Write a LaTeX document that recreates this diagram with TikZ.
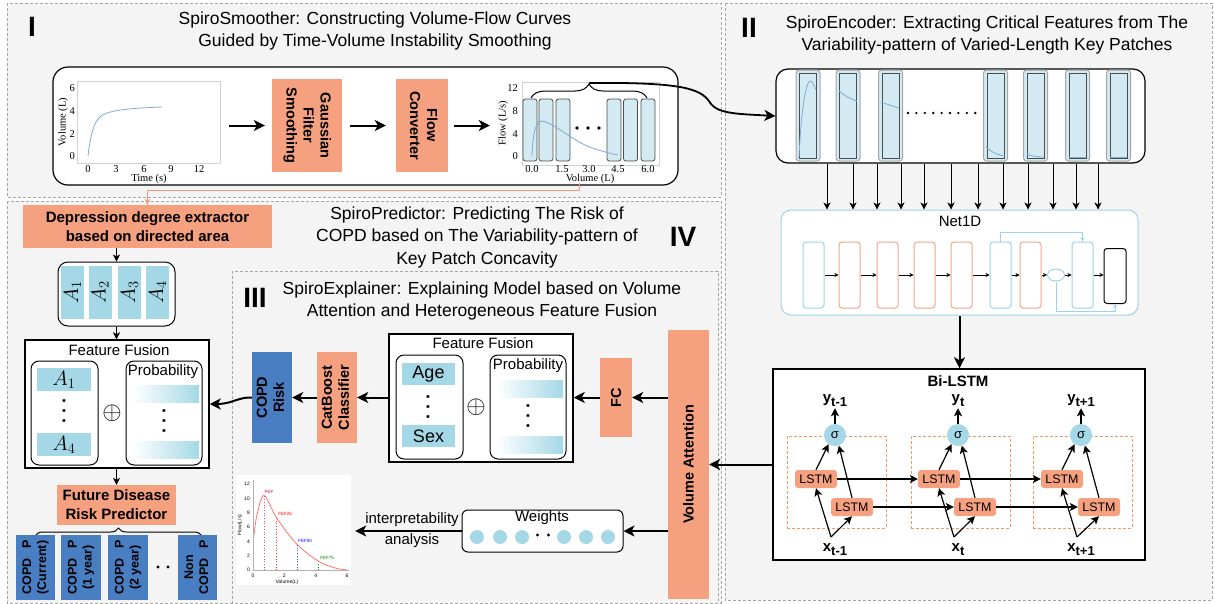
\documentclass[tikz,border=0pt]{standalone}
\usepackage{graphicx}
\usepackage{fontspec}
\setmainfont{Liberation Sans}
\newfontfamily\plotserif{Liberation Serif}
\usetikzlibrary{arrows.meta,decorations.pathreplacing,calc,shapes.geometric}
\definecolor{salmon}{HTML}{F5A07F}
\definecolor{lightblue}{HTML}{A5D8E6}
\definecolor{patchblue}{HTML}{D3EAF3}
\definecolor{copdblue}{HTML}{4A7EC2}
\definecolor{panelgray}{HTML}{F4F4F4}
\definecolor{netblue}{HTML}{9FD3E6}
\definecolor{netor}{HTML}{F5A589}
\definecolor{dashor}{HTML}{F7985F}
\definecolor{plotblue}{HTML}{7FA9D6}
\definecolor{orconn}{HTML}{F09A78}
\newcommand\myrot[2]{\rotatebox{#1}{\begin{tabular}{@{}c@{}}#2\end{tabular}}}
\newcommand\lsub[2]{{\fontsize{15}{15}\selectfont\bfseries #1}\raisebox{-4pt}{\fontsize{13}{13}\selectfont\bfseries #2}}
\newcommand\vdotz{\rotatebox{90}{\fontsize{18}{18}\selectfont\bfseries .\hspace{5pt}.\hspace{5pt}.}}
\begin{document}
\begin{tikzpicture}[x=1pt,y=-1pt,
  panel/.style={draw=gray!70, dash pattern=on 3pt off 2pt, line width=0.8pt, fill=panelgray},
  title/.style={align=center, font=\fontsize{17.5}{21.5}\selectfont, inner sep=0pt},
  numeral/.style={font=\fontsize{28}{28}\selectfont\bfseries, inner sep=0pt},
  sbox/.style={fill=salmon, inner sep=0pt, font=\fontsize{14.5}{17}\selectfont\bfseries},
  bbox/.style={fill=copdblue, inner sep=0pt, font=\fontsize{14.5}{17}\selectfont\bfseries},
  lab/.style={font=\fontsize{15}{15}\selectfont, inner sep=0pt},
  ticklab/.style={font=\plotserif\fontsize{10.5}{10.5}\selectfont, inner sep=0pt},
  tiny/.style={font=\fontsize{5}{5}\selectfont, inner sep=0pt},
  bigarrow/.style={line width=2pt, -{Stealth[length=11pt,width=11pt,inset=3pt]}},
  midarrow/.style={line width=1.2pt, -{Stealth[length=8pt,width=8pt,inset=2pt]}},
  smallarrow/.style={line width=0.8pt, -{Stealth[length=7pt,width=7pt,inset=2pt]}},
  tinyarrow/.style={line width=0.7pt, -{Stealth[length=4pt,width=4pt]}},
  netskip/.style={draw=netblue, line width=1pt, -{Stealth[length=4pt,width=4pt]}},
  fvpatch/.style={fill=patchblue, draw=gray!60!black, line width=0.8pt, rounded corners=2.5pt, inner sep=0pt, minimum width=14, minimum height=62},
  eout/.style={fill=patchblue, draw=gray!70, line width=1pt, rounded corners=3pt, inner sep=0pt, minimum width=24, minimum height=91},
  einn/.style={draw=gray!60!black, line width=1pt, inner sep=0pt, minimum width=17, minimum height=85},
  nb/.style={draw=#1, line width=1pt, rounded corners=3pt, minimum width=21, minimum height=66, inner sep=0pt, fill=white},
  lstm/.style={fill=salmon, rounded corners=3pt, minimum width=42, minimum height=18, inner sep=0pt, font=\fontsize{12.4}{12.4}\selectfont},
  sig/.style={circle, fill=lightblue, minimum size=22, inner sep=0pt, font=\fontsize{13}{13}\selectfont},
  arect/.style={fill=lightblue, inner sep=0pt, font=\fontsize{21}{21}\selectfont},
  gbar/.style={left color=white, right color=lightblue, inner sep=0pt, minimum width=67, minimum height=17},
  dot/.style={circle, fill=lightblue, minimum size=14, inner sep=0pt},
  oplusnode/.style={inner sep=0pt, font=\fontsize{27}{27}\selectfont}
]
\fill[white] (0,0) rectangle (1215,603);
\useasboundingbox (0,0) rectangle (1215,603);
% panels
\draw[panel] (7,3) rectangle (721,197);
\draw[panel] (725,3) rectangle (1212,600);
\draw[panel] (7,201) rectangle (721,603);
\draw[panel] (232,271) rectangle (718,603);

% ===== Panel I
\node[numeral] (n1) at (32,27) {I};
\node[title] (t1) at (375,31) {SpiroSmoother: Constructing Volume-Flow Curves\\Guided by Time-Volume Instability Smoothing};
\node[draw, line width=1.2pt, rounded corners=15pt, fill=white, minimum width=625, minimum height=118, inner sep=0pt] (smbox) at (365.5,126) {};
% time-volume plot
\node[draw=gray!35, fill=white, minimum width=143, minimum height=82, inner sep=0pt] (tv) at (148.5,122) {};
\foreach \t/\px in {0/88,3/116,6/144,9/171,12/199} \node[ticklab] (tvx\t) at (\px,169) {\t};
\foreach \v/\py in {0/156,2/134,4/111,6/88} \node[ticklab, anchor=east] (tvy\v) at (75,\py) {\v};
\node[ticklab] (tvxl) at (149,179) {Time (s)};
\node[ticklab, rotate=90] (tvyl) at (63,122) {Volume (L)};
\draw[plotblue, line width=0.8pt] plot[domain=0:8, samples=80, smooth] ({88+9.25*\x},{156-11.33*(3.3*(1-exp(-\x/0.5))+1.1*(1-exp(-\x/3)))});
% boxes
\node[sbox, minimum width=70, minimum height=93] (gauss) at (307,125.5) {\myrot{-90}{Gaussian\\Filter\\Smoothing}};
\node[sbox, minimum width=52, minimum height=93] (conv) at (422,125.5) {\myrot{-90}{Flow\\Converter}};
% flow-volume plot
\node[draw=gray!35, fill=white, minimum width=137, minimum height=83, inner sep=0pt] (fv) at (590.5,123.5) {};
\foreach \v/\py in {12/88,8/111,4/134,0/156} \node[ticklab, anchor=east] (fvy\v) at (518,\py) {\v};
\foreach \i/\t/\px in {1/0.0/532,2/1.5/562,3/3.0/589,4/4.5/618,5/6.0/648} \node[ticklab] (fvx\i) at (\px,169) {\t};
\node[ticklab] (fvxl) at (590,179) {Volume (L)};
\node[ticklab, rotate=90] (fvyl) at (503,123) {Flow (L/s)};
\foreach \i/\cx in {1/530,2/546,3/563,4/614,5/630.5,6/648} \node[fvpatch] (fp\i) at (\cx,130) {};
\draw[plotblue, line width=0.8pt] (532,156) .. controls (533,128) and (537,121) .. (542,121) .. controls (556,124) and (575,143) .. (595,149) .. controls (605,152) and (612,154) .. (618,155);
\foreach \i/\cx in {1/577,2/588,3/599} \fill (\cx,128) circle (1.8pt);
\draw[decorate, decoration={brace, amplitude=14pt}, line width=1pt] (531,98) -- (647,98);
\coordinate (bt) at (589,83);
% arrows
\draw[bigarrow, shorten <=9pt, shorten >=7pt] (tv.east |- gauss.west) -- (gauss.west);
\draw[bigarrow, shorten <=8pt, shorten >=10pt] (gauss.east) -- (conv.west);
\draw[bigarrow, shorten <=6pt, shorten >=32pt] (conv.east) -- (conv.east -| fv.west);

% ===== Panel II
\node[numeral] (n2) at (749,28) {II};
\node[title] (t2) at (987,35) {SpiroEncoder: Extracting Critical Features from The\\Variability-pattern of Varied-Length Key Patches};
\node[draw, line width=1.2pt, rounded corners=12pt, fill=white, minimum width=369, minimum height=94, inner sep=0pt] (enc) at (960.5,116) {};
\foreach \i/\cx in {1/808,2/848,3/890.5,4/995.5,5/1035.5,6/1077.5,7/1118.5} {
  \node[eout] (ep\i) at (\cx,115.5) {};
  \node[einn] (ei\i) at (\cx,115.5) {};
}
\draw[plotblue, line width=0.8pt] (799,158) .. controls (801,110) and (806,82) .. (810,81) .. controls (812,81) and (814,85) .. (816,90);
\draw[plotblue, line width=0.8pt] (839,91) .. controls (845,96) and (850,99) .. (857,101);
\draw[plotblue, line width=0.8pt] (881,102) .. controls (886,104) and (892,106) .. (899,108);
\draw[plotblue, line width=0.8pt] (986,147) .. controls (990,151) and (997,155) .. (1005,156);
\draw[plotblue, line width=0.8pt] (1027,154) .. controls (1031,156) and (1036,157) .. (1044,157);
\draw[plotblue, line width=0.8pt] (1069,157) -- (1086,157);
\draw[plotblue, line width=0.8pt] (1110,157) -- (1127,157);
\foreach \k in {0,...,8} \fill ({908+8.4*\k},113) circle (1.3pt);
% Net1D
\node[draw=netblue, line width=1pt, rounded corners=10pt, fill=white, minimum width=357, minimum height=105, inner sep=0pt] (net) at (959.5,262.5) {};
\node[lab] (netlbl) at (960,221) {Net1D};
\node[nb=netblue] (b1) at (813.5,275) {};
\node[nb=netor] (b2) at (849.5,275) {};
\node[nb=netor] (b3) at (887.5,275) {};
\node[nb=netor] (b4) at (924.5,275) {};
\node[nb=netor] (b5) at (961.5,275) {};
\node[nb=netblue] (b6) at (1000.5,275) {};
\node[nb=netor] (b7) at (1030.5,275) {};
\node[ellipse, draw=netblue, line width=1pt, fill=white, minimum width=17, minimum height=12, inner sep=0pt] (ell) at (1056,275) {};
\node[nb=netblue] (b8) at (1082.5,275) {};
\node[nb=black, minimum width=22, minimum height=55] (b9) at (1115,276) {};
\foreach \a/\b in {b1/b2,b2/b3,b3/b4,b4/b5,b5/b6,b6/b7,b7/ell,ell/b8} \draw[tinyarrow] (\a.east) -- (\b.west);
\draw[tinyarrow] (b8.east) -- (b8.east -| b9.west);
\draw[netskip] (b6.north) -- ++(0,-9) -| (b8.north);
\draw[netskip] (ell.south) -- ++(0,30) -| (b9.south);
\foreach \x in {827,853,877,901,924,951,978,1003,1028,1053,1076,1098} \draw[smallarrow] (enc.south -| \x,0) -- (net.north -| \x,0);
% Bi-LSTM
\node[draw, line width=1.5pt, fill=white, minimum width=372, minimum height=191, inner sep=0pt] (bl) at (959,464.5) {};
\draw[bigarrow] (net.south) -- (net.south |- bl.north);
\node[lab, font=\fontsize{15}{15}\selectfont\bfseries] (bllbl) at (958,381) {Bi-LSTM};
\foreach \i/\cx in {1/836.5,2/960.5,3/1082.5} \node[draw=dashor, dash pattern=on 3pt off 2pt, line width=1pt, minimum width=99, minimum height=92, inner sep=0pt] (db\i) at (\cx,482) {};
\foreach \i/\cx/\sy/\sx in {1/835/t-1/t-1,2/958/t/t,3/1081/t+1/t+1} {
  \node[sig] (s\i) at (\cx,435) {σ};
  \node[inner sep=0pt] (y\i) at (\cx,401) {\lsub{y}{\sy}};
  \node[inner sep=0pt] (x\i) at (\cx,550) {\lsub{x}{\sx}};
  \coordinate (xp\i) at ($(\cx,537)+(-4,0)$);
}
\node[lstm] (u1) at (816,479) {LSTM};
\node[lstm] (u2) at (939,479) {LSTM};
\node[lstm] (u3) at (1062,479) {LSTM};
\node[lstm] (l1) at (852,507) {LSTM};
\node[lstm] (l2) at (975,507) {LSTM};
\node[lstm] (l3) at (1099,507) {LSTM};
\foreach \i in {1,2,3} {
  \draw[midarrow] (xp\i) -- (u\i.south);
  \draw[midarrow] (xp\i) -- (l\i.south);
  \draw[midarrow] (u\i.north) -- (s\i.235);
  \draw[midarrow] (l\i.north) -- (s\i.290);
  \draw[midarrow, shorten >=1pt] (s\i.north) -- (y\i.south);
}
\draw[midarrow] (u1.east) -- (u2.west);
\draw[midarrow] (u2.east) -- (u3.west);
\draw[midarrow] (l1.east) -- (l2.west);
\draw[midarrow] (l2.east) -- (l3.west);

% ===== Panel IV
\node[numeral] (n4) at (683,237) {IV};
\node[title, font=\fontsize{17.5}{22.5}\selectfont] (t4) at (477,237) {SpiroPredictor: Predicting The Risk of\\COPD based on The Variability-pattern of\\Key Patch Concavity};
\node[sbox, font=\fontsize{15}{19}\selectfont\bfseries, align=center, minimum width=249, minimum height=43] (dep) at (147.5,226.5) {Depression degree extractor\\based on directed area};
\node[draw, line width=1pt, rounded corners=10pt, fill=white, minimum width=117, minimum height=64, inner sep=0pt] (abox) at (116.5,294) {};
\foreach \i/\cx in {1/72.5,2/100,3/129.5,4/157.5} \node[arect, minimum width=23, minimum height=53] (a\i) at (\cx,292.5) {\rotatebox{90}{$A_\i$}};
\draw[smallarrow] (dep.south -| abox.north) -- (abox.north);
\node[draw, line width=1.5pt, fill=white, minimum width=184, minimum height=128, inner sep=0pt] (ffl) at (117,404) {};
\draw[smallarrow] (abox.south) -- (abox.south |- ffl.north);
\node[lab] (ffllbl) at (119,350) {Feature Fusion};
\node[draw, line width=1pt, rounded corners=8pt, minimum width=67, minimum height=104, inner sep=0pt] (ffla) at (64.5,413) {};
\node[arect, minimum width=54, minimum height=23] (fa1) at (64,379.5) {$A_1$};
\node[arect, minimum width=54, minimum height=23] (fa4) at (64,444.5) {$A_4$};
\node[inner sep=0pt] (fadots) at (64,411) {\vdotz};
\node[oplusnode] (fplus) at (112,413) {$\oplus$};
\node[draw, line width=1pt, rounded corners=8pt, minimum width=76, minimum height=104, inner sep=0pt] (fflb) at (164,413) {};
\node[lab] (fflp) at (163,372) {Probability};
\node[gbar] (fb1) at (165.5,393.5) {};
\node[gbar] (fb2) at (165.5,449.5) {};
\node[inner sep=0pt] (fbdots) at (164,421) {\vdotz};
\node[sbox, font=\fontsize{15}{19}\selectfont\bfseries, align=center, minimum width=119, minimum height=40] (fut) at (116.5,505) {Future Disease\\Risk Predictor};
\draw[smallarrow] (ffl.south -| fut.north) -- (fut.north);
\draw[decorate, decoration={brace, amplitude=8pt}, line width=1pt] (35,536) -- (202,536);
\node[bbox, font=\fontsize{12.5}{15}\selectfont\bfseries, minimum width=39, minimum height=65] (c1) at (35.5,567.5) {\myrot{90}{COPD\hspace{10pt}P\\(Current)}};
\node[bbox, font=\fontsize{12.5}{15}\selectfont\bfseries, minimum width=40, minimum height=65] (c2) at (81,567.5) {\myrot{90}{COPD\hspace{10pt}P\\(1 year)}};
\node[bbox, font=\fontsize{12.5}{15}\selectfont\bfseries, minimum width=40, minimum height=65] (c3) at (128,567.5) {\myrot{90}{COPD\hspace{10pt}P\\(2 year)}};
\node[bbox, font=\fontsize{12.5}{15}\selectfont\bfseries, minimum width=39, minimum height=65] (c4) at (197.5,567.5) {\myrot{90}{Non\\COPD\hspace{10pt}P}};
\fill (158,567) circle (1.6pt);
\fill (168,567) circle (1.6pt);

% ===== Panel III
\node[numeral] (n3) at (255,298) {III};
\node[title] (t3) at (482,301) {SpiroExplainer: Explaining Model based on Volume\\Attention and Heterogeneous Feature Fusion};
\node[bbox, minimum width=40, minimum height=91] (risk) at (272,397.5) {\myrot{90}{COPD\\Risk}};
\node[sbox, minimum width=40, minimum height=91] (cat) at (337,397.5) {\myrot{90}{CatBoost\\Classifier}};
\node[draw, line width=1.5pt, fill=white, minimum width=184, minimum height=128, inner sep=0pt] (ffm) at (481,398) {};
\node[lab] (ffmlbl) at (483,343) {Feature Fusion};
\node[draw, line width=1pt, rounded corners=8pt, minimum width=67, minimum height=104, inner sep=0pt] (ffma) at (429.5,407) {};
\node[arect, font=\fontsize{18}{18}\selectfont, minimum width=53, minimum height=22] (age) at (428.5,374) {Age};
\node[arect, font=\fontsize{18}{18}\selectfont, minimum width=53, minimum height=22] (sex) at (428.5,436) {Sex};
\node[inner sep=0pt] (agedots) at (428,407) {\vdotz};
\node[oplusnode] (mplus) at (476,407) {$\oplus$};
\node[draw, line width=1pt, rounded corners=8pt, minimum width=76, minimum height=104, inner sep=0pt] (ffmb) at (528,407) {};
\node[lab] (ffmp) at (528,366) {Probability};
\node[gbar] (mb1) at (529.5,388.5) {};
\node[gbar] (mb2) at (529.5,444.5) {};
\node[inner sep=0pt] (mbdots) at (528,416) {\vdotz};
\node[sbox, minimum width=32, minimum height=79] (fc) at (616,397.5) {\rotatebox{90}{FC}};
\node[sbox, minimum width=41, minimum height=269] (va) at (688.5,464.5) {\rotatebox{90}{Volume Attention}};
\node[draw, line width=1pt, rounded corners=6pt, fill=white, minimum width=161, minimum height=42, inner sep=0pt] (wts) at (542.5,531) {};
\node[lab] (wtslbl) at (542,518) {Weights};
\foreach \i/\cx in {1/477,2/500,3/522,4/564,5/586,6/608} \node[dot] (w\i) at (\cx,537) {};
\fill (537.5,535) circle (1.6pt);
\fill (548.5,535) circle (1.6pt);
% small flow-volume plot
\node[fill=white, minimum width=115, minimum height=110, inner sep=0pt] (fvp) at (293.5,530) {};
\draw[gray!60, line width=0.5pt] (253,480) -- (253,570) -- (349,570);
\foreach \t/\px in {0/253,2/284.3,4/315.7,6/347} \node[tiny] (sx\t) at (\px,576) {\t};
\foreach \v/\py in {0/570,2/555.7,4/541.3,6/527,8/512.7,10/498.3,12/484} \node[tiny, anchor=east] (sy\v) at (250,\py) {\v};
\node[tiny] (sxl) at (287,582) {Volume(L)};
\node[tiny, rotate=90] (syl) at (240,525) {Flow(L/s)};
\draw[purple!70, dotted, line width=0.7pt] (264,570) -- (264,495.4);
\draw[red!80, dotted, line width=0.7pt] (276.5,570) -- (276.5,517.7);
\draw[blue!70, dotted, line width=0.7pt] (296.9,570) -- (296.9,544.2);
\draw[green!60!black, dotted, line width=0.7pt] (318.8,570) -- (318.8,561.4);
\draw[red!55, line width=0.8pt] plot[smooth, tension=0.55] coordinates {(254,535) (257,515) (264,495.4) (276.5,517.7) (296.9,544.2) (318.8,561.4) (334.5,567.8) (347,570)};
\node[tiny, text=purple, font=\fontsize{4.5}{4.5}\selectfont] (lpef) at (269,492) {PEF};
\node[tiny, text=red, font=\fontsize{4.5}{4.5}\selectfont] (lf25) at (285,514) {FEF25};
\node[tiny, text=blue, font=\fontsize{4.5}{4.5}\selectfont] (lf50) at (305,541) {FEF50};
\node[tiny, text=green!50!black, font=\fontsize{4.5}{4.5}\selectfont] (lf75) at (327,558) {FEF75};
\node[lab] (ia1) at (412,520) {interpretability};
\node[lab] (ia2) at (412,541) {analysis};
% arrows panel III
\draw[bigarrow] (va.west |- fc.east) -- (fc.east);
\draw[bigarrow] (fc.west) -- (fc.west -| ffm.east);
\draw[bigarrow] (ffm.west |- cat.east) -- (cat.east);
\draw[bigarrow] (cat.west) -- (risk.east);
\draw[bigarrow] (va.west |- wts.east) -- (wts.east);
\draw[bigarrow, shorten >=4pt] (wts.west) -- (wts.west -| fvp.east);
\draw[bigarrow] (risk.west) .. controls (238,397) and (232,404) .. (ffl.east);
\draw[bigarrow] (bl.west) -- (va.east);

% long connectors
\draw[line width=1.8pt, -{Stealth[length=11pt,width=11pt,inset=3pt]}] (bt) .. controls (690,82) and (702,90) .. (711,104) .. controls (719,114) and (740,114) .. (enc.west);
\coordinate (fvb) at (579,183);
\draw[draw=orconn, line width=1pt, -{Stealth[length=6pt,width=6pt]}] (fvb) -- ++(0,7) -| (dep.north);
\end{tikzpicture}
\end{document}
